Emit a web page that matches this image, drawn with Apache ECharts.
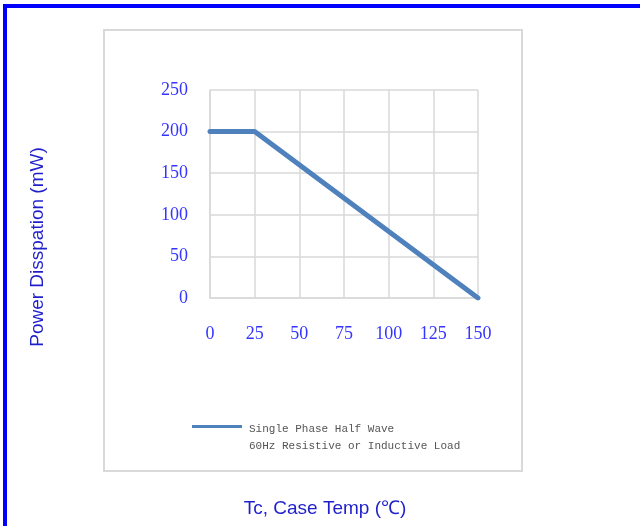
<!DOCTYPE html>
<html><head><meta charset="utf-8">
<script src="https://cdn.jsdelivr.net/npm/echarts@6/dist/echarts.min.js"></script>
<style>html,body{margin:0;padding:0;background:#fff}#c{width:640px;height:526px}</style>
</head><body><div id="c"></div>
<script>
const temps = [0, 25, 150];
const power = [200, 200, 0];
const xTicks = [0, 25, 50, 75, 100, 125, 150];
const yTicks = [0, 50, 100, 150, 200, 250];
const legendLines = ['Single Phase Half Wave', '60Hz Resistive or Inductive Load'];
const seriesName = legendLines.join(' ');

const chart = echarts.init(document.getElementById('c'), null, {renderer: 'canvas'});
chart.setOption({
  animation: false,
  backgroundColor: '#fff',
  graphic: [
    {type: 'rect', shape: {x: 3, y: 4, width: 640, height: 4}, style: {fill: '#0000ff'}, z: 10},
    {type: 'rect', shape: {x: 3, y: 4, width: 4, height: 530}, style: {fill: '#0000ff'}, z: 10},
    {type: 'rect', shape: {x: 104, y: 30, width: 418, height: 441}, style: {fill: 'none', stroke: '#d9d9d9', lineWidth: 2}, z: -1}
  ],
  grid: {left: 210, top: 90, right: 162, bottom: 228},
  xAxis: {
    type: 'value', min: xTicks[0], max: xTicks[xTicks.length - 1], interval: 25,
    name: 'Tc, Case Temp (℃)', nameLocation: 'middle', nameGap: 201,
    nameTextStyle: {color: '#1f1fcc', fontFamily: 'Liberation Sans', fontSize: 19, padding: [0, 38, 0, 0]},
    axisLine: {show: true, lineStyle: {color: '#d9d9d9', width: 1.5}},
    axisTick: {show: false},
    splitLine: {show: true, lineStyle: {color: '#d9d9d9', width: 1.5}},
    axisLabel: {color: '#3535ff', fontFamily: 'Liberation Serif', fontSize: 18, margin: 27}
  },
  yAxis: {
    type: 'value', min: yTicks[0], max: yTicks[yTicks.length - 1], interval: 50,
    name: 'Power Disspation (mW)', nameLocation: 'middle', nameGap: 163, nameRotate: 90,
    nameTextStyle: {color: '#1f1fcc', fontFamily: 'Liberation Sans', fontSize: 19, padding: [0, 106, 0, 0]},
    axisLine: {show: true, lineStyle: {color: '#d9d9d9', width: 1.5}},
    axisTick: {show: false},
    splitLine: {show: true, lineStyle: {color: '#d9d9d9', width: 1.5}},
    axisLabel: {color: '#3535ff', fontFamily: 'Liberation Serif', fontSize: 18, margin: 22}
  },
  legend: {
    left: 192, top: 404, padding: 0, itemWidth: 50, itemHeight: 3, itemGap: 0,
    icon: 'rect',
    data: [seriesName],
    formatter: () => '{s| }\n{t|' + legendLines[0] + '}\n{t|' + legendLines[1] + '}',
    textStyle: {
      color: '#555', fontFamily: 'Liberation Mono', fontSize: 11,
      rich: {
        s: {lineHeight: 23, fontSize: 11},
        t: {lineHeight: 17, fontSize: 11, color: '#555', fontFamily: 'Liberation Mono', padding: [0, 0, 0, 2]}
      }
    }
  },
  series: [{
    name: seriesName, type: 'line', symbol: 'none',
    data: temps.map((t, i) => [t, power[i]]),
    lineStyle: {color: '#4f81bd', width: 5, cap: 'round'},
    itemStyle: {color: '#4f81bd'}
  }]
});
</script></body></html>
